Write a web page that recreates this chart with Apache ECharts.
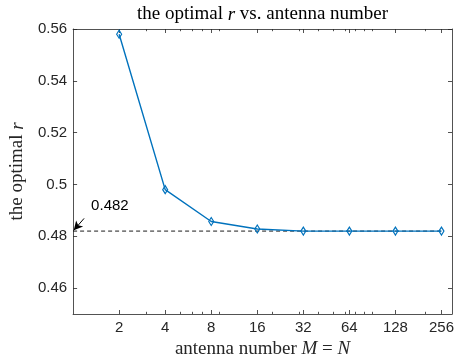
<!DOCTYPE html>
<html>
<head>
<meta charset="utf-8">
<script src="https://cdn.jsdelivr.net/npm/echarts@6/dist/echarts.min.js"></script>
<style>html,body{margin:0;padding:0;background:#fff;}#c{width:459px;height:364px;}</style>
</head>
<body>
<div id="c"></div>
<script>
const antennas = [2, 4, 8, 16, 32, 64, 128, 256];
const optimalR = [0.558, 0.498, 0.4857, 0.4828, 0.482, 0.482, 0.482, 0.482];
const xMajorTicks = [2, 4, 8, 16, 32, 64, 128, 256];
const xMinorTicks = [3, 5, 6, 7, 9, 20, 30, 40, 50, 60, 70, 80, 90, 200];
const yTicks = [0.46, 0.48, 0.5, 0.52, 0.54, 0.56];
const refValue = 0.482;
const refX = [1, 256];
const arrowTail = [1.18, 0.4869];
const arrowHead = [1.01, 0.4823];
const labelPos = [1.74, 0.4918];

const axisColor = '#262626';
const lineBlue = '#0072BD';
const serif = 'Liberation Serif';
const sans = 'Liberation Sans';

function xAxisDef(pos, ticks, len, labels, extra) {
  return Object.assign({
    type: 'log', logBase: 2, min: 1, max: 300, position: pos,
    axisLine: { show: labels !== null || pos === 'top', onZero: false, lineStyle: { color: axisColor, width: 0.8 } },
    axisTick: { show: true, inside: true, length: len, customValues: ticks, lineStyle: { color: axisColor, width: 0.8 } },
    axisLabel: labels ? { show: true, customValues: labels, margin: 6, color: axisColor, fontFamily: sans, fontSize: 15 } : { show: false },
    splitLine: { show: false }, minorTick: { show: false }
  }, extra || {});
}

const chart = echarts.init(document.getElementById('c'), null, { renderer: 'canvas' });
chart.setOption({
  animation: false,
  backgroundColor: '#fff',
  grid: { left: 72, right: 7, top: 24.7, bottom: 50, containLabel: false },
  xAxis: [
    xAxisDef('bottom', xMajorTicks, 4, xMajorTicks, {
      name: '{n|antenna number }{i|M}{n| = }{i|N}',
      nameLocation: 'middle', nameGap: 18,
      nameTextStyle: { color: axisColor, rich: {
        n: { fontFamily: serif, fontSize: 19, color: axisColor },
        i: { fontFamily: serif, fontSize: 19, fontStyle: 'italic', color: axisColor }
      } }
    }),
    xAxisDef('bottom', xMinorTicks, 2.2, null),
    xAxisDef('top', xMajorTicks, 4, null, {
      name: '{n|the optimal }{i|r}{n| vs. antenna number}',
      nameLocation: 'middle', nameGap: 5,
      nameTextStyle: { color: '#000', rich: {
        n: { fontFamily: serif, fontSize: 19, color: '#000' },
        i: { fontFamily: serif, fontSize: 19, fontStyle: 'italic', color: '#000' }
      } }
    }),
    xAxisDef('top', xMinorTicks, 2.2, null, { axisLine: { show: false } })
  ],
  yAxis: [
    {
      type: 'value', min: 0.45, max: 0.56, position: 'left',
      axisLine: { show: true, onZero: false, lineStyle: { color: axisColor, width: 0.8 } },
      axisTick: { show: true, inside: true, length: 4, customValues: yTicks, lineStyle: { color: axisColor, width: 0.8 } },
      axisLabel: { show: true, customValues: yTicks, margin: 6, color: axisColor, fontFamily: sans, fontSize: 15,
        formatter: v => String(+(+v).toFixed(2)) },
      splitLine: { show: false },
      name: '{n|the optimal }{i|r}',
      nameLocation: 'middle', nameGap: 43, nameRotate: 90,
      nameTextStyle: { color: axisColor, rich: {
        n: { fontFamily: serif, fontSize: 19, color: axisColor },
        i: { fontFamily: serif, fontSize: 19, fontStyle: 'italic', color: axisColor }
      } }
    },
    {
      type: 'value', min: 0.45, max: 0.56, position: 'right',
      axisLine: { show: true, onZero: false, lineStyle: { color: axisColor, width: 0.8 } },
      axisTick: { show: true, inside: true, length: 4, customValues: yTicks, lineStyle: { color: axisColor, width: 0.8 } },
      axisLabel: { show: false },
      splitLine: { show: false }
    }
  ],
  series: [
    {
      type: 'line', xAxisIndex: 0, yAxisIndex: 0,
      data: refX.map(x => [x, refValue]),
      symbol: 'none',
      lineStyle: { color: '#000', width: 0.9, type: [4, 3] },
      silent: true,
      markLine: {
        silent: true, animation: false,
        symbol: ['none', 'arrow'], symbolSize: [7, 9],
        lineStyle: { color: '#000', width: 1, type: 'solid' },
        label: { show: false },
        data: [[{ coord: arrowTail }, { coord: arrowHead }]]
      },
      markPoint: {
        silent: true, animation: false,
        symbol: 'circle', symbolSize: 0,
        label: { show: true, position: 'inside', formatter: '0.482', color: '#000', fontFamily: sans, fontSize: 15 },
        data: [{ coord: labelPos }]
      }
    },
    {
      type: 'line', xAxisIndex: 0, yAxisIndex: 0,
      data: antennas.map((a, i) => [a, optimalR[i]]),
      symbol: 'diamond', symbolSize: [5, 8], showAllSymbol: true,
      lineStyle: { color: lineBlue, width: 1.4 },
      itemStyle: { color: 'rgba(255,255,255,0)', borderColor: lineBlue, borderWidth: 1.2 },
      silent: true
    }
  ]
});
</script>
</body>
</html>
